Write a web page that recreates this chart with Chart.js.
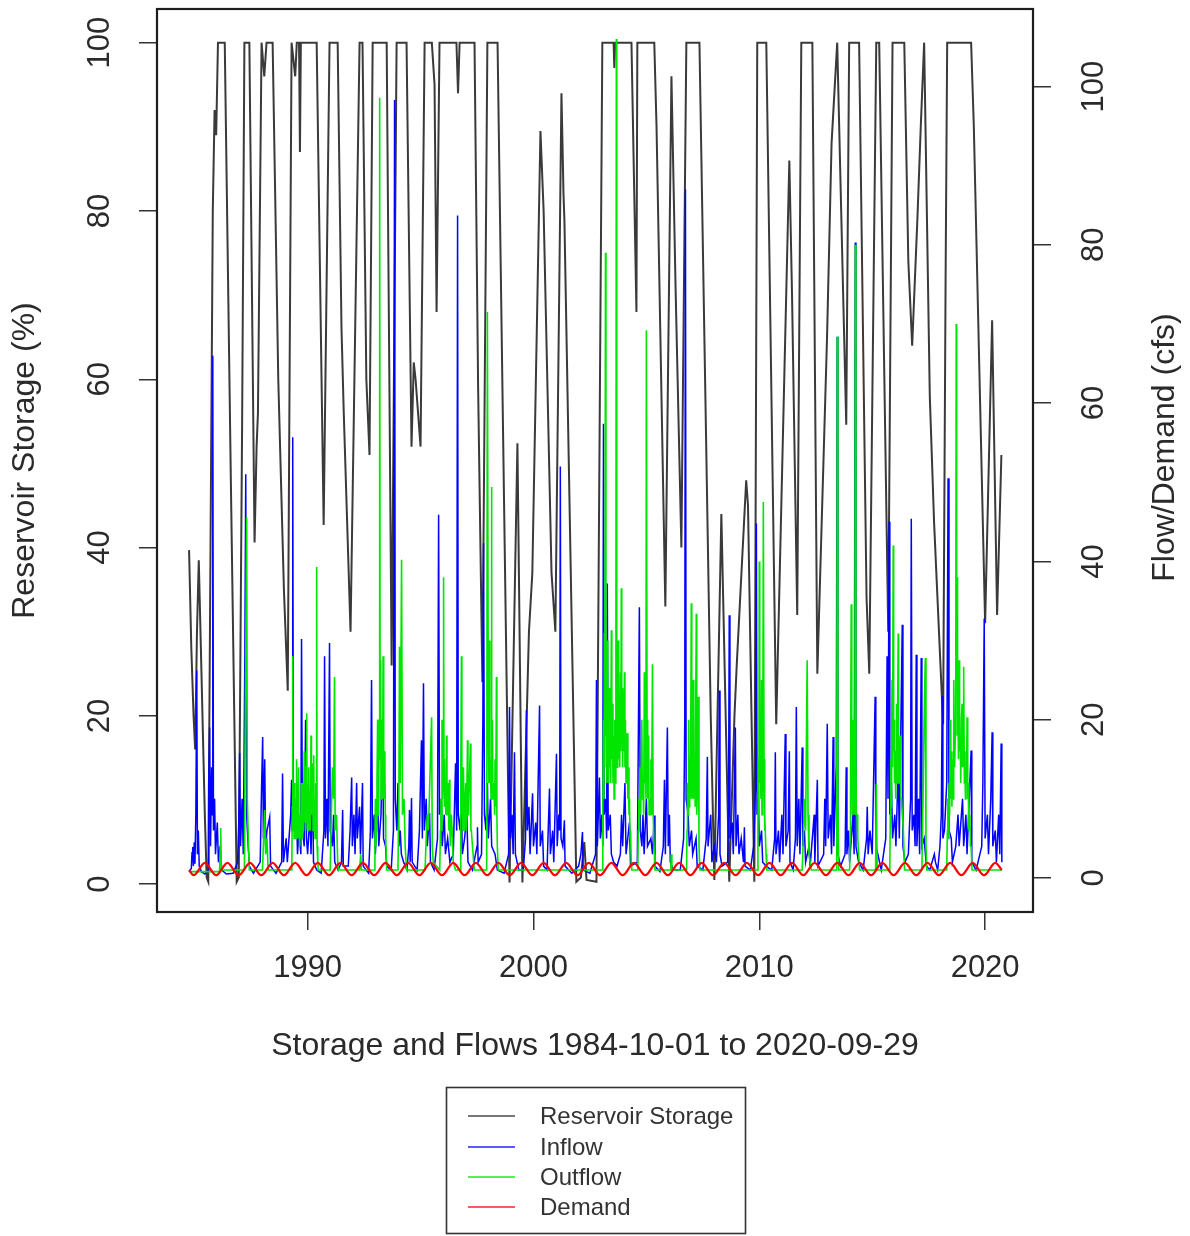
<!DOCTYPE html>
<html>
<head>
<meta charset="utf-8">
<script src="https://cdn.jsdelivr.net/npm/chart.js@4.4.1/dist/chart.umd.min.js"></script>
<style>
  html, body { margin: 0; padding: 0; background: #ffffff; }
  canvas { display: block; }
</style>
</head>
<body>
<canvas id="chart" width="1190" height="1236"></canvas>
<script>
// Reservoir storage, percent of capacity: [decimal year, %]
const storage = [
  [1984.75,39.7],[1984.85,28],[1984.95,20],[1985.02,16],[1985.1,30],[1985.18,38.5],[1985.3,25],[1985.45,8],
  [1985.53,0.8],[1985.6,0.3],[1985.7,40],[1985.8,80],[1985.88,92],[1985.95,89],[1986.03,100],[1986.33,100],
  [1986.6,48],[1986.86,0.3],[1986.95,0.8],[1987.1,55],[1987.2,100],[1987.42,100],[1987.65,40.6],[1987.74,52],
  [1987.8,56],[1987.96,100],[1988.08,96],[1988.18,100],[1988.45,100],[1988.7,60],[1988.95,35],[1989.05,28],
  [1989.12,23],[1989.2,60],[1989.29,100],[1989.45,96],[1989.52,100],[1989.62,100],[1989.66,87],[1989.7,100],
  [1990.4,100],[1990.71,42.7],[1990.97,100],[1991.33,100],[1991.5,66],[1991.6,56],[1991.9,30],[1992.3,100],
  [1992.43,100],[1992.6,60],[1992.74,51],[1992.88,100],[1993.5,100],[1993.72,26],[1993.94,100],[1994.38,100],
  [1994.6,52],[1994.7,62],[1994.78,60],[1995.0,52],[1995.18,100],[1995.5,100],[1995.62,95],[1995.71,68],
  [1995.84,100],[1996.59,100],[1996.66,94],[1996.73,100],[1997.39,100],[1997.55,59],[1997.74,24],[1997.96,100],
  [1998.41,100],[1998.7,45],[1998.94,0.2],[1999.29,52.4],[1999.51,0.2],[1999.8,30],[1999.95,37],[2000.31,89.5],
  [2000.45,80],[2000.8,37],[2000.97,30],[2001.24,94],[2001.33,82],[2001.37,79],[2001.9,0.3],[2002.1,0.8],
  [2002.25,5],[2002.35,0.5],[2002.79,0.3],[2003.05,100],[2003.55,100],[2003.58,97],[2003.62,100],[2004.34,100],
  [2004.56,68],[2004.6,100],[2005.35,100],[2005.45,90],[2005.84,33],[2006.11,96],[2006.3,70],[2006.55,40],
  [2006.77,100],[2007.35,100],[2007.6,60],[2007.85,20],[2008.01,0.5],[2008.32,44],[2008.67,0.3],[2008.9,20],
  [2009.0,26],[2009.42,48],[2009.5,45],[2009.78,0.3],[2009.91,100],[2010.31,100],[2010.75,19],[2011.33,86],
  [2011.45,70],[2011.68,32],[2011.86,100],[2012.35,100],[2012.57,25],[2013.0,65],[2013.2,88],[2013.45,100],
  [2013.85,54.6],[2013.98,100],[2014.42,100],[2014.75,34],[2014.87,25],[2015.18,100],[2015.31,100],[2015.71,30],
  [2015.9,100],[2016.42,100],[2016.6,74],[2016.77,64],[2017.0,79],[2017.15,90],[2017.3,100],[2017.55,58],
  [2017.74,43],[2018.14,19],[2018.25,72],[2018.32,100],[2019.38,100],[2019.5,90],[2020.0,31],[2020.31,67],
  [2020.53,32],[2020.72,51]
];

// Inflow to the reservoir, cfs: [decimal year, cfs]
const inflow = [
  [1984.75,0.8],[1984.85,1.2],[1984.88,3.2],[1984.91,3.9],[1984.94,1.5],[1984.98,4.5],[1985.01,1.8],[1985.05,8],
  [1985.09,26.2],[1985.12,3],[1985.16,6],[1985.2,1.5],[1985.3,0.8],[1985.45,0.5],[1985.6,1],[1985.62,12],
  [1985.66,19],[1985.7,4],[1985.75,14],[1985.78,8],[1985.8,66],[1985.83,6],[1985.88,10],[1985.92,3],
  [1986.0,7],[1986.05,2],[1986.12,4],[1986.2,1],[1986.4,0.5],[1986.7,0.6],[1986.9,2],[1986.95,7],
  [1986.99,15.8],[1987.03,4],[1987.1,10],[1987.15,3],[1987.22,28],[1987.26,51],[1987.3,8],[1987.35,5],
  [1987.42,1.5],[1987.6,0.6],[1987.9,2],[1987.95,10],[1988.01,17.8],[1988.04,5],[1988.1,15],[1988.14,4],
  [1988.2,6],[1988.32,7.7],[1988.36,1.5],[1988.6,0.6],[1988.85,2],[1988.89,13.2],[1988.93,2],[1989.05,5],
  [1989.1,2],[1989.25,8],[1989.29,12.4],[1989.31,6],[1989.34,55.7],[1989.37,8],[1989.45,5],[1989.5,10],
  [1989.55,3],[1989.62,6],[1989.7,3],[1989.73,30.2],[1989.77,6],[1989.85,4],[1989.91,20],[1989.95,5],
  [1990.0,3],[1990.1,8],[1990.15,3],[1990.22,12],[1990.26,2],[1990.4,1],[1990.6,0.6],[1990.72,6],
  [1990.75,28],[1990.79,5],[1990.85,10],[1990.9,4],[1990.97,29.7],[1991.0,6],[1991.1,4],[1991.15,8],
  [1991.2,2],[1991.35,1],[1991.5,2],[1991.55,8.6],[1991.58,1.5],[1991.8,1.5],[1991.88,6],[1991.95,12.7],
  [1991.98,4],[1992.05,8],[1992.1,3],[1992.17,12],[1992.2,5],[1992.3,9],[1992.34,3],[1992.43,12],
  [1992.46,1.5],[1992.7,0.6],[1992.78,6],[1992.83,25],[1992.87,5],[1992.95,8],[1993.0,3],[1993.1,10],
  [1993.15,4],[1993.25,8],[1993.32,19.6],[1993.36,5],[1993.45,4],[1993.5,1.5],[1993.7,1],[1993.8,6],
  [1993.85,98.3],[1993.88,10],[1993.95,6],[1994.0,12],[1994.04,4],[1994.1,6],[1994.15,3],[1994.25,2],
  [1994.4,1],[1994.48,4],[1994.51,8.6],[1994.54,2],[1994.6,10.1],[1994.63,2],[1994.85,1],[1994.95,6],
  [1995.04,17.4],[1995.08,5],[1995.13,24.6],[1995.17,6],[1995.25,10],[1995.3,4],[1995.4,8.2],[1995.44,2],
  [1995.6,1],[1995.75,5],[1995.8,45.9],[1995.84,8],[1995.92,10],[1995.96,4],[1996.05,8],[1996.1,3],
  [1996.2,5],[1996.3,2],[1996.45,3],[1996.55,14.5],[1996.6,6],[1996.64,83.7],[1996.67,8],[1996.75,6],
  [1996.8,10],[1996.85,3],[1996.95,5],[1997.05,8],[1997.1,2],[1997.3,1],[1997.5,4],[1997.52,6.4],
  [1997.55,2],[1997.7,3],[1997.76,20],[1997.79,42.3],[1997.83,8],[1997.9,6],[1997.96,12],[1998.0,5],
  [1998.1,10],[1998.15,4],[1998.3,3],[1998.4,1],[1998.7,0.6],[1998.9,3],[1998.94,21.6],[1998.98,5],
  [1999.05,8],[1999.1,3],[1999.16,15.9],[1999.2,3],[1999.35,1],[1999.55,1],[1999.65,5],[1999.69,21.2],
  [1999.73,6],[1999.8,9],[1999.85,3],[1999.96,10.7],[2000.0,4],[2000.1,7],[2000.15,3],[2000.27,21.8],
  [2000.3,4],[2000.4,6],[2000.45,1.5],[2000.6,1],[2000.71,11.3],[2000.75,3],[2000.85,6],[2000.9,2],
  [2001.02,15.7],[2001.05,4],[2001.12,8],[2001.16,6],[2001.19,52],[2001.22,5],[2001.3,4],[2001.37,7.3],
  [2001.4,1.5],[2001.7,0.6],[2002.0,1.5],[2002.1,3],[2002.17,5.8],[2002.2,1],[2002.5,0.6],[2002.75,3],
  [2002.79,25],[2002.83,4],[2002.92,12.7],[2002.96,5],[2003.03,8],[2003.07,4],[2003.1,57.4],[2003.13,8],
  [2003.2,10],[2003.24,5],[2003.27,37.2],[2003.31,6],[2003.4,8],[2003.45,3],[2003.55,2],[2003.7,1.5],
  [2003.85,3],[2003.9,8],[2003.95,4],[2004.05,12],[2004.1,3],[2004.25,7],[2004.3,1.5],[2004.6,2],
  [2004.69,34.2],[2004.73,6],[2004.8,4],[2004.85,8],[2004.9,3],[2005.0,10],[2005.05,4],[2005.2,5],
  [2005.27,3],[2005.35,7.9],[2005.38,1.5],[2005.6,0.8],[2005.75,4],[2005.8,12.4],[2005.84,3],[2005.93,19],
  [2005.97,4],[2006.02,8],[2006.06,2],[2006.2,1],[2006.5,1],[2006.65,5],[2006.7,20],[2006.73,87],
  [2006.76,10],[2006.85,8],[2006.9,4],[2007.0,6],[2007.05,3],[2007.2,5],[2007.25,1.5],[2007.5,1],
  [2007.65,5],[2007.7,15.3],[2007.73,4],[2007.85,8],[2007.9,2],[2008.0,4],[2008.1,2],[2008.2,8],
  [2008.23,23.7],[2008.26,3],[2008.35,1.5],[2008.6,2],[2008.64,10],[2008.67,33.2],[2008.7,5],[2008.8,7],
  [2008.85,3],[2008.94,19],[2008.97,4],[2009.05,8],[2009.1,3],[2009.2,5],[2009.3,2],[2009.34,6.4],
  [2009.37,1.5],[2009.6,1],[2009.75,4],[2009.84,12],[2009.87,44.8],[2009.9,8],[2009.96,10],[2010.0,4],
  [2010.1,6],[2010.15,2],[2010.3,1.5],[2010.55,1],[2010.68,5],[2010.71,15.9],[2010.74,3],[2010.85,6],
  [2010.9,2],[2011.0,8],[2011.05,3],[2011.15,18.2],[2011.18,4],[2011.28,6],[2011.33,16],[2011.36,2],
  [2011.5,1],[2011.6,5],[2011.64,21.6],[2011.68,4],[2011.75,10],[2011.8,3],[2011.9,16.5],[2011.93,4],
  [2012.0,6],[2012.05,2],[2012.2,4],[2012.25,1.5],[2012.43,8],[2012.46,2],[2012.57,12.4],[2012.6,1.5],
  [2012.85,3],[2012.9,10],[2012.94,4],[2013.01,19.5],[2013.05,5],[2013.15,8],[2013.2,3],[2013.27,17.8],
  [2013.3,4],[2013.41,14.3],[2013.45,68.4],[2013.48,3],[2013.6,1.5],[2013.8,3],[2013.85,14],[2013.88,3],
  [2013.95,6],[2014.0,2],[2014.15,8],[2014.2,3],[2014.25,80.3],[2014.28,4],[2014.4,2],[2014.6,1],
  [2014.75,5],[2014.78,9],[2014.82,3],[2014.9,6],[2015.0,3],[2015.13,22.9],[2015.16,4],[2015.25,3],
  [2015.4,1],[2015.6,5],[2015.66,28],[2015.7,10],[2015.75,45],[2015.78,8],[2015.85,12],[2015.9,5],
  [2016.0,8],[2016.05,4],[2016.15,14],[2016.2,5],[2016.33,32],[2016.36,4],[2016.45,2],[2016.6,3],
  [2016.7,10],[2016.73,45.4],[2016.77,6],[2016.85,8],[2016.9,4],[2016.95,28.2],[2016.98,4],[2017.05,10],
  [2017.1,3],[2017.17,27.8],[2017.2,4],[2017.3,5],[2017.4,1.5],[2017.55,1],[2017.75,3],[2017.8,2],
  [2017.9,1],[2018.0,4],[2018.06,8],[2018.1,23],[2018.13,5],[2018.2,6],[2018.3,12],[2018.36,50.5],
  [2018.4,6],[2018.5,5],[2018.55,2],[2018.7,4],[2018.8,8],[2018.85,4],[2019.0,10],[2019.05,4],
  [2019.15,8],[2019.2,3],[2019.38,16.1],[2019.41,2],[2019.6,1],[2019.85,4],[2019.9,12],[2019.96,32.8],
  [2020.0,5],[2020.1,8],[2020.15,3],[2020.25,10],[2020.31,18.4],[2020.34,4],[2020.45,6],[2020.5,2],
  [2020.6,8],[2020.65,3],[2020.71,17],[2020.74,2]
];

// Release / spill from the reservoir, cfs: [decimal year, cfs]
const outflow = [
  [1984.75,0.8],[1986.1,0.8],[1986.13,4],[1986.15,6.3],[1986.18,1],[1987.2,1],[1987.24,20],[1987.3,45.6],
  [1987.33,10],[1987.38,4],[1987.42,1],[1988.0,1],[1988.05,5],[1988.1,8.6],[1988.14,3],[1988.2,5],
  [1988.25,1],
  [1989.3,1],[1989.32,9],[1989.34,28],[1989.36,6],[1989.38,12],[1989.4,5],[1989.42,12],[1989.44,7],
  [1989.47,10],[1989.49,5],[1989.51,15],[1989.53,6],[1989.55,11],[1989.57,5],[1989.6,14],[1989.62,6],
  [1989.65,4],[1989.68,8],[1989.7,5],[1989.72,12],[1989.74,6],[1989.76,10],[1989.78,5],[1989.8,12],
  [1989.82,6],[1989.85,16],[1989.87,7],[1989.9,10],[1989.92,6],[1989.94,14],[1989.96,20.8],[1989.98,7],
  [1990.0,12],[1990.02,6],[1990.05,14],[1990.07,7],[1990.1,10],[1990.12,6],[1990.15,18],[1990.17,8],
  [1990.2,12],[1990.22,14.5],[1990.24,6],[1990.27,15.5],[1990.29,7],[1990.31,10],[1990.33,5],[1990.36,12],
  [1990.38,6],[1990.4,39.3],[1990.42,4],[1990.45,2],[1990.47,1],
  [1991.0,1],[1991.05,8],[1991.1,14],[1991.15,10],[1991.19,25.4],[1991.22,6],[1991.28,8],[1991.33,2],
  [1991.36,1],[1992.3,1],[1992.35,3],[1992.38,1],
  [1992.95,1],[1992.98,5],[1993.0,10],[1993.02,4],[1993.05,6],[1993.07,12],[1993.1,20],[1993.12,8],
  [1993.15,12],[1993.17,20],[1993.19,98.6],[1993.21,15],[1993.23,27.5],[1993.25,10],[1993.26,12],[1993.28,20],
  [1993.3,18],[1993.32,10],[1993.34,28],[1993.36,12],[1993.38,10],[1993.4,16],[1993.42,14],[1993.44,8],
  [1993.46,5],[1993.5,1],
  [1994.0,1],[1994.04,10],[1994.07,29.2],[1994.1,12],[1994.16,40.2],[1994.2,8],[1994.27,10],[1994.32,4],
  [1994.38,1],[1995.2,1],[1995.25,5],[1995.3,8],[1995.35,6],[1995.49,20.3],[1995.52,4],[1995.56,2],
  [1995.85,1],[1995.88,6],[1995.9,10],[1995.92,6],[1995.95,20],[1995.97,10],[1996.0,16],[1996.02,38],
  [1996.04,12],[1996.05,15],[1996.07,9],[1996.1,12],[1996.12,8],[1996.15,18],[1996.17,8],[1996.2,8],
  [1996.23,12],[1996.25,6],[1996.28,12.4],[1996.3,6],[1996.32,4],[1996.36,8],[1996.4,6],[1996.45,2],
  [1996.55,1],
  [1996.75,1],[1996.78,12],[1996.81,28],[1996.83,8],[1996.85,10],[1996.88,6],[1996.9,14],[1996.93,6],
  [1996.95,8],[1997.0,12],[1997.03,6],[1997.08,17.4],[1997.1,8],[1997.12,8],[1997.16,12],[1997.21,17],
  [1997.23,6],[1997.25,6],[1997.3,4],[1997.38,1],
  [1997.93,1],[1997.96,71.5],[1998.0,20],[1998.02,12],[1998.05,30],[1998.07,12],[1998.1,15],[1998.12,10],
  [1998.14,49.4],[1998.16,14],[1998.18,20],[1998.21,10],[1998.25,12],[1998.28,8],[1998.3,15],[1998.33,9],
  [1998.36,25.4],[1998.38,8],[1998.4,4],[1998.44,1],
  [2003.05,1],[2003.07,8],[2003.1,20],[2003.12,10],[2003.14,31],[2003.16,14],[2003.19,79],[2003.21,18],
  [2003.23,25],[2003.25,12],[2003.27,30],[2003.29,15],[2003.31,22],[2003.33,12],[2003.35,24],[2003.37,14],
  [2003.4,20],[2003.42,12],[2003.45,31.3],[2003.47,15],[2003.5,22],[2003.52,12],[2003.55,18],[2003.57,10],
  [2003.6,20],[2003.62,12],[2003.65,25],[2003.67,106],[2003.69,20],[2003.71,14],[2003.73,24],[2003.75,30],
  [2003.77,15],[2003.8,22],[2003.82,14],[2003.85,26],[2003.87,16],[2003.89,36.6],[2003.91,18],[2003.93,24],
  [2003.95,14],[2003.98,22],[2004.0,16],[2004.03,26],[2004.05,14],[2004.07,20],[2004.1,12],[2004.13,16],
  [2004.15,18.3],[2004.18,10],[2004.2,14],[2004.23,8],[2004.25,10],[2004.28,5],[2004.3,6],[2004.33,2],
  [2004.35,1],
  [2004.62,1],[2004.64,6],[2004.66,10],[2004.69,6],[2004.72,14],[2004.75,8],[2004.8,20],[2004.82,10],
  [2004.85,12],[2004.88,8],[2004.91,26],[2004.93,12],[2004.95,15],[2004.98,10],[2005.0,69.2],[2005.03,20],
  [2005.06,10],[2005.1,18],[2005.12,8],[2005.15,10],[2005.18,8],[2005.2,15],[2005.23,8],[2005.27,27],
  [2005.3,8],[2005.35,3],[2005.38,1],
  [2006.08,1],[2006.1,3],[2006.13,1],
  [2006.78,1],[2006.8,6],[2006.82,12],[2006.85,8],[2006.87,20],[2006.9,9],[2006.92,15],[2006.95,10],
  [2006.99,34.7],[2007.01,10],[2007.03,18],[2007.06,10],[2007.08,25],[2007.1,10],[2007.13,15],[2007.16,9],
  [2007.21,33.4],[2007.23,8],[2007.25,10],[2007.3,22.9],[2007.33,4],[2007.37,1],
  [2009.92,1],[2009.94,6],[2009.96,15],[2009.98,8],[2010.0,40],[2010.02,12],[2010.05,20],[2010.07,10],
  [2010.1,25],[2010.12,8],[2010.14,12],[2010.16,8],[2010.18,47.5],[2010.21,15],[2010.23,6],[2010.25,8],
  [2010.3,3],[2010.33,1],
  [2011.9,1],[2011.95,5],[2012.0,10],[2012.05,6],[2012.12,27.5],[2012.16,8],[2012.2,3],[2012.3,1],
  [2013.43,1],[2013.45,68.4],[2013.48,10],[2013.52,1],
  [2014.0,1],[2014.02,5],[2014.04,10],[2014.07,34.6],[2014.09,10],[2014.1,15],[2014.12,8],[2014.15,20],
  [2014.17,9],[2014.2,12],[2014.23,8],[2014.25,80],[2014.28,15],[2014.3,8],[2014.33,8],[2014.36,5],
  [2014.4,3],[2014.44,1],
  [2015.15,1],[2015.18,11.9],[2015.22,1],
  [2015.78,1],[2015.8,8],[2015.82,15],[2015.84,9],[2015.86,18],[2015.88,25],[2015.9,14],[2015.93,42],
  [2015.95,16],[2015.97,20],[2015.99,12],[2016.02,15],[2016.04,10],[2016.06,16],[2016.08,22],[2016.1,12],
  [2016.12,18],[2016.15,30.9],[2016.17,12],[2016.2,12],[2016.22,16],[2016.25,18],[2016.27,10],[2016.3,10],
  [2016.33,8],[2016.38,6],[2016.43,1],
  [2017.2,1],[2017.25,10],[2017.3,20],[2017.35,27.8],[2017.38,4],[2017.42,1],
  [2018.3,1],[2018.33,6],[2018.35,10],[2018.38,5],[2018.4,12],[2018.43,8],[2018.45,20],[2018.48,10],
  [2018.5,16],[2018.53,9],[2018.55,15],[2018.58,10],[2018.6,20],[2018.62,25],[2018.65,14],[2018.68,18],
  [2018.7,26],[2018.72,70],[2018.74,25],[2018.76,38],[2018.78,18],[2018.8,20],[2018.82,15],[2018.85,27.5],
  [2018.87,16],[2018.9,18],[2018.92,12],[2018.95,20],[2018.98,22],[2019.0,14],[2019.03,18],[2019.05,26.7],
  [2019.08,12],[2019.1,14],[2019.13,10],[2019.15,16],[2019.18,12],[2019.2,20.3],[2019.23,10],[2019.25,12],
  [2019.28,6],[2019.32,8],[2019.35,4],[2019.38,4],[2019.42,1],
  [2020.74,1]
];

// Water demand, cfs: [decimal year, cfs] (summer highs, winter lows)
const demand = [
  [1984.75,1.0],[1984.95,0.35],[1985.45,1.9],[1985.95,0.35],[1986.45,1.9],[1986.95,0.35],[1987.45,1.9],[1987.95,0.35],
  [1988.45,1.9],[1988.95,0.35],[1989.45,1.9],[1989.95,0.35],[1990.45,1.9],[1990.95,0.35],[1991.45,1.9],[1991.95,0.35],
  [1992.45,1.9],[1992.95,0.35],[1993.45,1.9],[1993.95,0.35],[1994.45,1.9],[1994.95,0.35],[1995.45,1.9],[1995.95,0.35],
  [1996.45,1.9],[1996.95,0.35],[1997.45,1.9],[1997.95,0.35],[1998.45,1.9],[1998.95,0.35],[1999.45,1.9],[1999.95,0.35],
  [2000.45,1.9],[2000.95,0.35],[2001.45,1.9],[2001.95,0.35],[2002.45,1.9],[2002.95,0.35],[2003.45,1.9],[2003.95,0.35],
  [2004.45,1.9],[2004.95,0.35],[2005.45,1.9],[2005.95,0.35],[2006.45,1.9],[2006.95,0.35],[2007.45,1.9],[2007.95,0.35],
  [2008.45,1.9],[2008.95,0.35],[2009.45,1.9],[2009.95,0.35],[2010.45,1.9],[2010.95,0.35],[2011.45,1.9],[2011.95,0.35],
  [2012.45,1.9],[2012.95,0.35],[2013.45,1.9],[2013.95,0.35],[2014.45,1.9],[2014.95,0.35],[2015.45,1.9],[2015.95,0.35],
  [2016.45,1.9],[2016.95,0.35],[2017.45,1.9],[2017.95,0.35],[2018.45,1.9],[2018.95,0.35],[2019.45,1.9],[2019.95,0.35],
  [2020.45,1.9],[2020.74,1.0]
];

const yearTicks = [1990, 2000, 2010, 2020];
const storageTicks = [0, 20, 40, 60, 80, 100];
const flowTicks = [0, 20, 40, 60, 80, 100];
const seriesNames = ['Reservoir Storage', 'Inflow', 'Outflow', 'Demand'];
const seriesColors = ['#3a3a3a', '#0000ff', '#00e600', '#ff0000'];
const legendColors = ['#777777', '#5a5aff', '#55ee55', '#ff5a5a'];
const xTitle = 'Storage and Flows 1984-10-01 to 2020-09-29';
const yTitle = 'Reservoir Storage (%)';
const y2Title = 'Flow/Demand (cfs)';

const FONT_FAMILY = "'Liberation Sans', Arial, Helvetica, sans-serif";
const TEXT_COLOR = '#2a2a2a';
const axisFont = { family: FONT_FAMILY, size: 31 };
const titleFont = { family: FONT_FAMILY, size: 32 };

const fixTicks = list => scale => { scale.ticks = list.map(v => ({ value: v })); };
const tickMarks = { display: true, drawOnChartArea: false, drawTicks: true, tickLength: 18, color: '#333', lineWidth: 1.5 };

// Frame around the plotting region
const framePlugin = {
  id: 'frame',
  afterDatasetsDraw(chart) {
    const { ctx, chartArea: a } = chart;
    ctx.save();
    ctx.strokeStyle = '#1e1e1e';
    ctx.lineWidth = 2.2;
    ctx.strokeRect(a.left, a.top, a.right - a.left, a.bottom - a.top);
    ctx.restore();
  }
};

// Right-hand axis title, reading bottom to top
const rightTitlePlugin = {
  id: 'rightTitle',
  afterDraw(chart) {
    const { ctx } = chart;
    const s = chart.scales.y2;
    ctx.save();
    ctx.translate(1165, (s.top + s.bottom) / 2 - 13);
    ctx.rotate(-Math.PI / 2);
    ctx.font = `${titleFont.size}px ${FONT_FAMILY}`;
    ctx.fillStyle = TEXT_COLOR;
    ctx.textAlign = 'center';
    ctx.textBaseline = 'middle';
    ctx.fillText(y2Title, 0, 0);
    ctx.restore();
  }
};

// Boxed legend under the axis title
const boxLegendPlugin = {
  id: 'boxLegend',
  afterDraw(chart) {
    const { ctx } = chart;
    const box = { x: 446.5, y: 1087.5, w: 299, h: 146 };
    const rows = [1116, 1147, 1177, 1207];
    ctx.save();
    ctx.strokeStyle = '#333';
    ctx.lineWidth = 1.6;
    ctx.strokeRect(box.x, box.y, box.w, box.h);
    ctx.font = `24px ${FONT_FAMILY}`;
    ctx.textBaseline = 'middle';
    ctx.textAlign = 'left';
    seriesNames.forEach((name, i) => {
      ctx.strokeStyle = legendColors[i];
      ctx.lineWidth = 2.2;
      ctx.beginPath();
      ctx.moveTo(468, rows[i]);
      ctx.lineTo(515, rows[i]);
      ctx.stroke();
      ctx.fillStyle = '#333';
      ctx.fillText(name, 540, rows[i] + 1);
    });
    ctx.restore();
  }
};

new Chart(document.getElementById('chart'), {
  type: 'line',
  data: {
    datasets: [
      { label: seriesNames[0], data: storage, yAxisID: 'y', borderColor: seriesColors[0], borderWidth: 2, order: 3 },
      { label: seriesNames[1], data: inflow, yAxisID: 'y2', borderColor: seriesColors[1], borderWidth: 1.5, order: 2 },
      { label: seriesNames[2], data: outflow, yAxisID: 'y2', borderColor: seriesColors[2], borderWidth: 1.6, order: 1 },
      { label: seriesNames[3], data: demand, yAxisID: 'y2', borderColor: seriesColors[3], borderWidth: 2.2, order: 0,
        cubicInterpolationMode: 'monotone' }
    ]
  },
  options: {
    responsive: false,
    animation: false,
    devicePixelRatio: 1,
    elements: { point: { radius: 0, hoverRadius: 0 }, line: { tension: 0, fill: false } },
    layout: { padding: { top: 9, left: 0, right: 0, bottom: 0 }, autoPadding: false },
    plugins: { legend: { display: false }, tooltip: { enabled: false } },
    scales: {
      x: {
        type: 'linear', position: 'bottom', min: 1983.33, max: 2022.12,
        afterBuildTicks: fixTicks(yearTicks),
        afterFit: s => { s.height = 324; s.paddingLeft = 0; s.paddingRight = 0; },
        grid: tickMarks,
        border: { display: false },
        ticks: { font: axisFont, color: TEXT_COLOR, padding: 20, minRotation: 0, maxRotation: 0, autoSkip: false,
                 callback: v => String(v) },
        title: { display: true, text: xTitle, font: titleFont, color: TEXT_COLOR, padding: { top: 0, bottom: 171 } }
      },
      y: {
        type: 'linear', position: 'left', min: -3.3, max: 104,
        afterBuildTicks: fixTicks(storageTicks),
        afterFit: s => { s.width = 157; s.paddingTop = 0; s.paddingBottom = 0; },
        grid: tickMarks,
        border: { display: false },
        ticks: { font: axisFont, color: TEXT_COLOR, padding: 13, minRotation: 90, maxRotation: 90, crossAlign: 'center',
                 autoSkip: false, callback: v => String(v) },
        title: { display: true, text: yTitle, font: titleFont, color: TEXT_COLOR, padding: { top: 6, bottom: 0 } }
      },
      y2: {
        type: 'linear', position: 'right', min: -4.3, max: 109.8,
        afterBuildTicks: fixTicks(flowTicks),
        afterFit: s => { s.width = 157; s.paddingTop = 0; s.paddingBottom = 0; },
        grid: tickMarks,
        border: { display: false },
        ticks: { font: axisFont, color: TEXT_COLOR, padding: 18, minRotation: 90, maxRotation: 90, crossAlign: 'center',
                 autoSkip: false, callback: v => String(v) }
      }
    }
  },
  plugins: [framePlugin, rightTitlePlugin, boxLegendPlugin]
});
</script>
</body>
</html>
